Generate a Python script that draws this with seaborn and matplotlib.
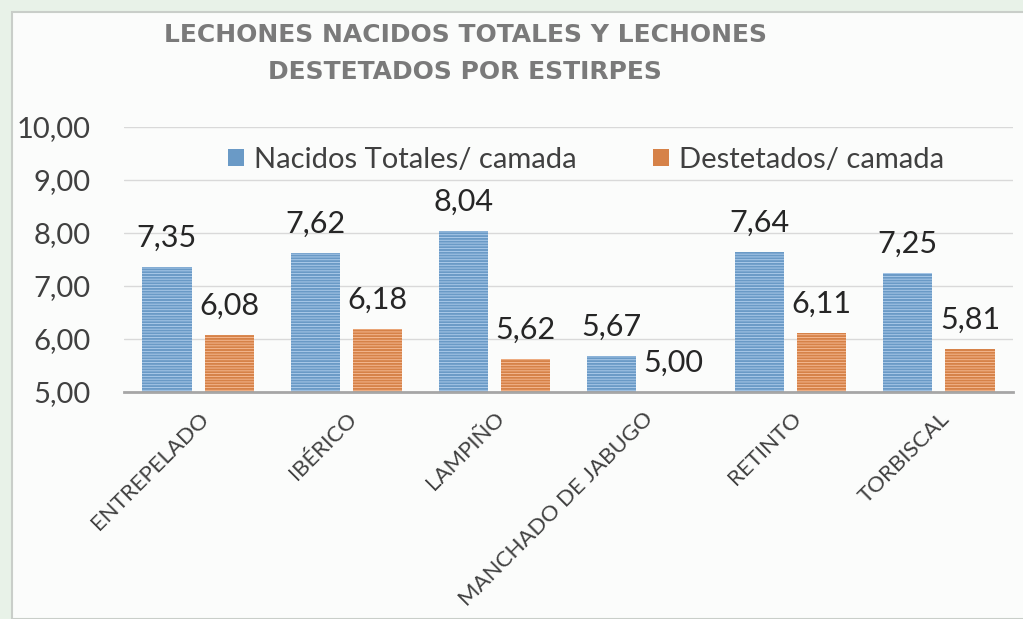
import matplotlib
matplotlib.use("Agg")
import matplotlib.pyplot as plt
from matplotlib.patches import Rectangle
from matplotlib.ticker import FuncFormatter
import pandas as pd
import seaborn as sns

# data
estirpes = ["ENTREPELADO", "IBÉRICO", "LAMPIÑO", "MANCHADO DE JABUGO", "RETINTO", "TORBISCAL"]
nacidos = [7.35, 7.62, 8.04, 5.67, 7.64, 7.25]
destetados = [6.08, 6.18, 5.62, 5.00, 6.11, 5.81]
series = ["Nacidos Totales/ camada", "Destetados/ camada"]
title_lines = ["LECHONES NACIDOS TOTALES Y LECHONES", "DESTETADOS POR ESTIRPES"]

df = pd.DataFrame({
    "estirpe": estirpes * 2,
    "serie": [series[0]] * len(estirpes) + [series[1]] * len(estirpes),
    "valor": nacidos + destetados,
})

sns.set_style("white")
plt.rcParams["font.family"] = ["Lato", "DejaVu Sans"]
plt.rcParams["hatch.linewidth"] = 0.6

W, H = 1023, 619
fig = plt.figure(figsize=(W / 100, H / 100), dpi=100)
fig.patch.set_facecolor("#e8f2e8")
fig.add_artist(Rectangle((12 / W, 0), 1, 1 - 12 / H, transform=fig.transFigure,
                         facecolor="#fbfcfb", edgecolor="#c9cec9", linewidth=1.5,
                         zorder=-10))

ax = fig.add_axes([124 / W, 1 - 392 / H, (1013 - 124) / W, (392 - 127) / H])
ax.set_facecolor("none")

colors = {series[0]: "#5b9bd5", series[1]: "#ed7d31"}
sns.barplot(data=df, x="estirpe", y="valor", hue="serie", palette=colors,
            width=0.84, gap=0.21, ax=ax, linewidth=0)

stripe = ["#b3d0ee", "#f8bf9a"]
for cont, sc, vals in zip(ax.containers, stripe, [nacidos, destetados]):
    for bar in cont:
        bar.set_hatch("------")
        bar.set_edgecolor(sc)
        bar.set_linewidth(0)
    ax.bar_label(cont, labels=[f"{v:.2f}".replace(".", ",") for v in vals],
                 padding=11, fontsize=22, color="#262626")

ax.set_ylim(5, 10)
ax.set_yticks([5, 6, 7, 8, 9, 10])
ax.yaxis.set_major_formatter(FuncFormatter(lambda v, _: f"{v:.2f}".replace(".", ",")))
ax.tick_params(axis="y", labelsize=21, labelcolor="#404040", length=0, pad=24)
ax.tick_params(axis="x", length=0, pad=12)
ax.set_xticks(range(len(estirpes)))
ax.set_xticklabels(estirpes, rotation=45, ha="right", rotation_mode="anchor",
                   fontsize=16, color="#404040")
ax.set_xlabel("")
ax.set_ylabel("")
ax.grid(axis="y", color="#d9d9d9", linewidth=1)
ax.set_axisbelow(True)
for s in ["left", "right", "top"]:
    ax.spines[s].set_visible(False)
ax.spines["bottom"].set_color("#a6a6a6")
ax.spines["bottom"].set_linewidth(2)

ax.legend(loc="upper center", bbox_to_anchor=(0.52, 1.025), ncol=2, frameon=False,
          fontsize=21, handlelength=0.55, handleheight=0.55, columnspacing=2.6,
          handletextpad=0.35, labelcolor="#404040")

fig.text(465 / W, 1 - 35 / H, title_lines[0], ha="center", va="center",
         fontsize=18, color="#7a7a7a", fontweight="bold", family=["DejaVu Sans"])
fig.text(465 / W, 1 - 72 / H, title_lines[1], ha="center", va="center",
         fontsize=18, color="#7a7a7a", fontweight="bold", family=["DejaVu Sans"])

fig.savefig("out.png", dpi=100, facecolor=fig.get_facecolor())
